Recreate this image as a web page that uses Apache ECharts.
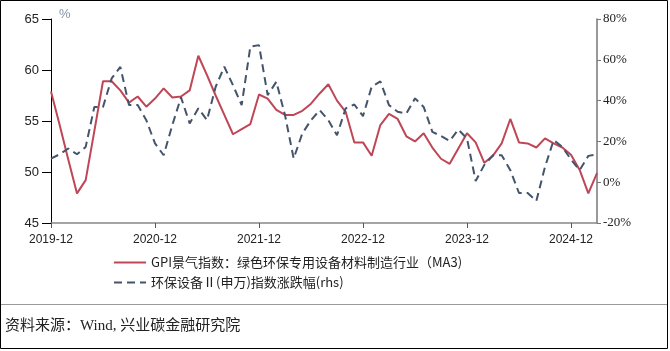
<!DOCTYPE html>
<html>
<head>
<meta charset="utf-8">
<script src="https://cdn.jsdelivr.net/npm/echarts@6/dist/echarts.min.js"></script>
<style>
html, body { margin: 0; padding: 0; background: #fff; }
#main { width: 670px; height: 351px; }
</style>
</head>
<body>
<div id="main"></div>
<script>
// 月份: 2019-12 ~ 2025-03
var months = [];
(function () {
	var y = 2019, m = 12;
	while (y < 2025 || (y === 2025 && m <= 3)) {
		months.push(y + '-' + (m < 10 ? '0' + m : m));
		m++;
		if (m > 12) { m = 1; y++; }
	}
})();

var gpiName = 'GPI景气指数：绿色环保专用设备材料制造行业（MA3)';
var idxName = '环保设备Ⅱ(申万)指数涨跌幅(rhs)';

var gpiData = [
	57.9, 54.6, 51.2, 47.9, 49.2, 54.0, 58.9, 58.9, 58.0, 56.8, 57.4, 56.4,
	57.2, 58.2, 57.3, 57.4, 58.0, 61.4, 59.5, 57.5, 55.6, 53.7, 54.2, 54.7,
	57.6, 57.2, 56.1, 55.6, 55.6, 56.0, 56.7, 57.7, 58.6, 57.0, 55.9, 52.9,
	52.9, 51.6, 54.6, 55.7, 55.2, 53.5, 53.0, 53.8, 52.4, 51.3, 50.8, 52.3,
	53.8, 52.9, 50.9, 51.6, 52.8, 55.2, 52.9, 52.8, 52.4, 53.3, 52.8, 52.4,
	51.7, 50.2, 47.9, 49.9
];

var idxData = [
	11.6, 13.7, 16.5, 13.7, 17.3, 36.9, 36.9, 50.9, 56.5, 37.8, 37.8, 30.4,
	19.0, 13.2, 28.0, 41.6, 28.8, 36.2, 30.4, 46.8, 56.6, 47.5, 37.8, 66.4,
	67.2, 42.7, 49.2, 32.9, 11.6, 23.9, 30.4, 35.3, 30.4, 23.0, 36.2, 38.1,
	32.4, 46.8, 49.4, 37.8, 34.5, 33.7, 41.1, 36.9, 24.7, 22.6, 20.2, 25.8,
	21.4, 0.6, 8.5, 13.2, 13.2, 5.9, -5.3, -5.3, -9.2, 7.5, 20.6, 17.3,
	11.1, 5.9, 12.9, 13.7
];

var myChart = echarts.init(document.getElementById('main'));
var option = {
	animation: false,
	textStyle: { fontFamily: 'Liberation Sans, Noto Sans CJK SC' },
	grid: { left: 51, right: 73, top: 19, bottom: 128 },
	graphic: [
		{ type: 'rect', shape: { x: 0.5, y: 0.5, width: 667, height: 348 }, style: { fill: 'none', stroke: '#000', lineWidth: 1 } },
		{ type: 'line', shape: { x1: 1, y1: 304.5, x2: 667, y2: 304.5 }, style: { stroke: '#999', lineWidth: 1 } },
		{ type: 'text', left: 59, top: 8, style: { text: '%', fill: '#8a94a8', font: '13px Liberation Sans' } },
		{ type: 'text', left: 5, top: 319, style: { text: '资料来源：Wind, 兴业碳金融研究院', fill: '#222', font: '15px "Liberation Serif", "Noto Sans CJK SC"' } }
	],
	legend: {
		orient: 'vertical',
		left: 113,
		top: 256,
		padding: 0,
		itemWidth: 32,
		itemHeight: 14,
		itemGap: 7,
		itemStyle: { opacity: 0 },
		textStyle: { fontSize: 13, color: '#222', fontFamily: 'Noto Sans CJK SC' },
		data: [gpiName, idxName]
	},
	xAxis: {
		type: 'category',
		boundaryGap: false,
		data: months,
		axisLine: { onZero: false, lineStyle: { color: '#888', width: 1.5 } },
		axisTick: { length: 5, interval: function (i) { return i % 12 === 0; }, lineStyle: { color: '#555' } },
		axisLabel: { interval: function (i) { return i % 12 === 0; }, color: '#222', fontSize: 12, margin: 11 }
	},
	yAxis: [{
		type: 'value',
		min: 45,
		max: 65,
		interval: 5,
		splitLine: { show: false },
		axisLine: { show: true, lineStyle: { color: '#000' } },
		axisTick: { show: true, length: 9, lineStyle: { color: '#000' } },
		axisLabel: { color: '#222', fontSize: 13, margin: 12 }
	}, {
		type: 'value',
		min: -20,
		max: 80,
		interval: 20,
		splitLine: { show: false },
		axisLine: { show: true, lineStyle: { color: '#777', width: 1.5 } },
		axisTick: { show: true, length: 4, lineStyle: { color: '#777' } },
		axisLabel: { color: '#222', fontSize: 13, margin: 6, formatter: '{value}%', fontFamily: 'Liberation Serif' }
	}],
	series: [{
		name: gpiName,
		type: 'line',
		yAxisIndex: 0,
		data: gpiData,
		symbol: 'none',
		lineStyle: { color: '#bf4656', width: 2 },
		itemStyle: { color: '#bf4656' }
	}, {
		name: idxName,
		type: 'line',
		yAxisIndex: 1,
		data: idxData,
		symbol: 'none',
		lineStyle: { color: '#44546a', width: 2, type: [8, 5] },
		itemStyle: { color: '#44546a' }
	}]
};
myChart.setOption(option);
</script>
</body>
</html>
